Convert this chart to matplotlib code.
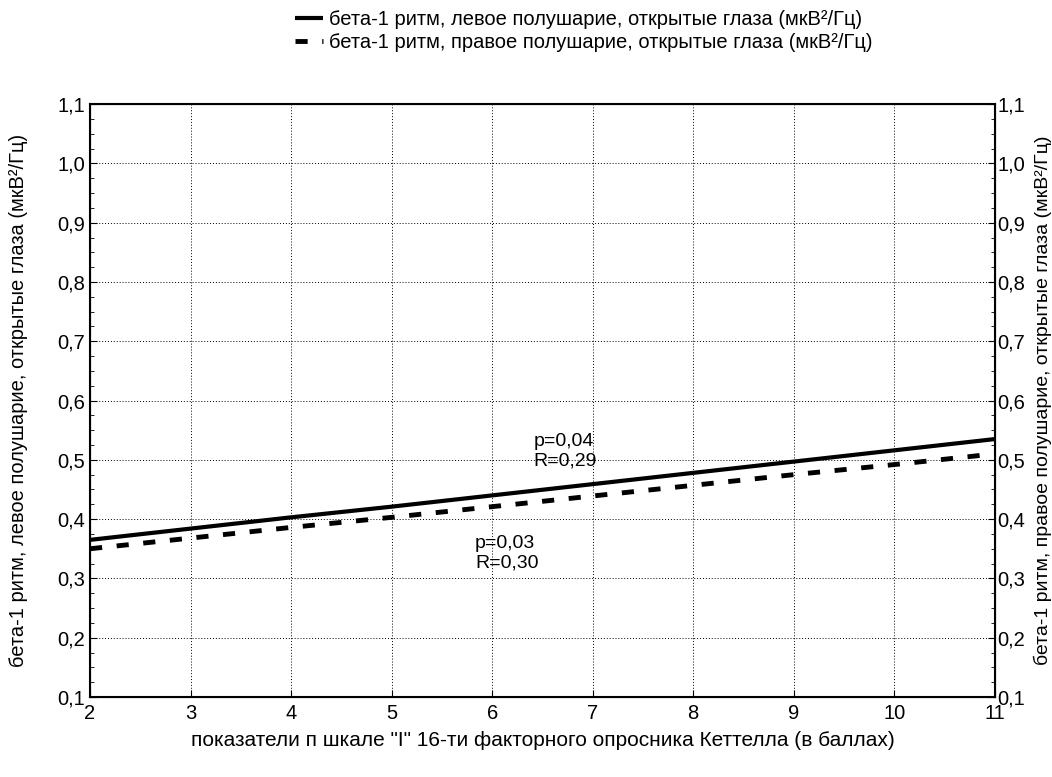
import numpy as np
import matplotlib.pyplot as plt
from matplotlib.ticker import FuncFormatter, MultipleLocator

plt.rcParams['font.family'] = ['Liberation Sans', 'DejaVu Sans']

# regression lines
x_vals = [2, 3, 4, 5, 6, 7, 8, 9, 10, 11]
left_beta = [0.365, 0.384, 0.403, 0.421, 0.440, 0.459, 0.478, 0.497, 0.516, 0.535]
right_beta = [0.350, 0.368, 0.386, 0.403, 0.421, 0.439, 0.457, 0.475, 0.492, 0.510]

left_label = 'бета-1 ритм, левое полушарие, открытые глаза (мкВ²/Гц)'
right_label = 'бета-1 ритм, правое полушарие, открытые глаза (мкВ²/Гц)'
x_label = 'показатели п шкале "I" 16-ти факторного опросника Кеттелла (в баллах)'

fig = plt.figure(figsize=(10.52, 7.77), dpi=100)
ax = fig.add_axes([0.0856, 0.103, 0.860, 0.763])

l1, = ax.plot(x_vals, left_beta, color='black', lw=3, solid_capstyle='butt')
l2, = ax.plot(x_vals, right_beta, color='black', lw=3.5, dashes=(2.5, 3))

ax.set_xlim(2, 11)
ax.set_ylim(0.1, 1.1)
ax.xaxis.set_major_locator(MultipleLocator(1))
ax.yaxis.set_major_locator(MultipleLocator(0.1))
ax.yaxis.set_minor_locator(MultipleLocator(0.025))
ax.xaxis.set_minor_locator(MultipleLocator(0.25))
comma = FuncFormatter(lambda v, p: f'{v:.1f}'.replace('.', ','))
ax.yaxis.set_major_formatter(comma)
ax.grid(True, which='major', color='black', linestyle=(0, (1, 2)), lw=0.7)
ax.tick_params(which='both', direction='in', labelsize=14.5, right=True, top=False)
ax.tick_params(which='major', length=5)
ax.tick_params(which='minor', length=3)
ax.tick_params(axis='x', which='minor', bottom=False)
ax.tick_params(axis='x', pad=5)
for s in ax.spines.values():
    s.set_linewidth(1.5)

ax.set_xlabel(x_label, fontsize=15, labelpad=6)
ax.set_ylabel(left_label, fontsize=14.5, va='center')
ax.yaxis.set_label_coords(-0.079, 0.5)

ax2 = ax.twinx()
ax2.set_ylim(0.1, 1.1)
ax2.yaxis.set_major_locator(MultipleLocator(0.1))
ax2.yaxis.set_minor_locator(MultipleLocator(0.025))
ax2.yaxis.set_major_formatter(comma)
ax2.tick_params(which='both', direction='in', labelsize=14.5, pad=2)
ax2.tick_params(which='major', length=5)
ax2.tick_params(which='minor', length=3)
ax2.set_ylabel(right_label, fontsize=14, rotation=90, va='center')
ax2.yaxis.set_label_coords(1.053, 0.5)

# last x label sits left of the corner, as in the original
fig.canvas.draw()
ax.get_xticklabels()[-1].set_horizontalalignment('right')

ax.text(6.41, 0.483, 'p=0,04\nR=0,29', fontsize=14, linespacing=1.25, va='bottom')
ax.text(5.83, 0.311, 'p=0,03\nR=0,30', fontsize=14, linespacing=1.25, va='bottom')

fig.legend([l1, l2], [left_label, right_label], loc='upper center',
           bbox_to_anchor=(0.555, 1.01), frameon=False, fontsize=14.5,
           handlelength=1.4, handletextpad=0.3, labelspacing=0.2)

fig.savefig('out.png', dpi=100)
